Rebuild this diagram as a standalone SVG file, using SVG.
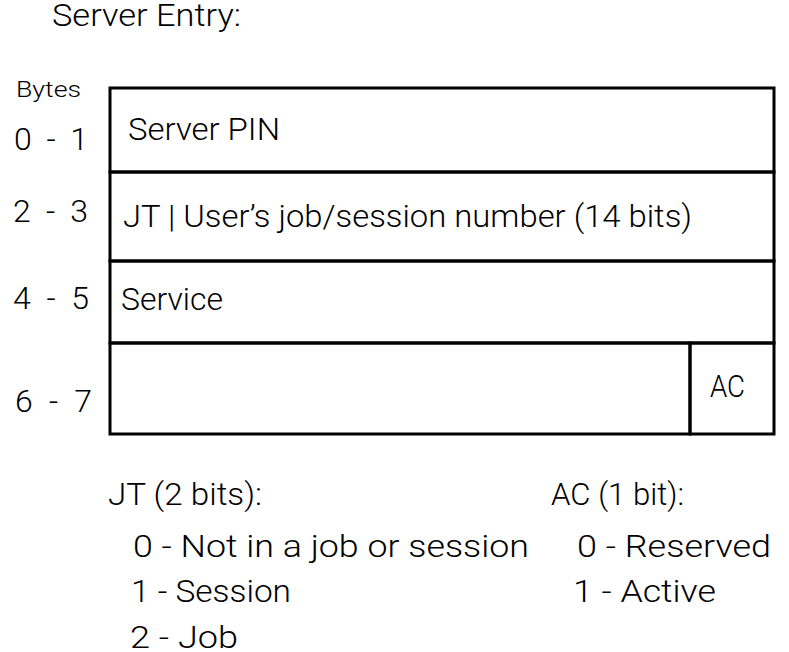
<svg xmlns="http://www.w3.org/2000/svg" width="789" height="652" viewBox="0 0 789 652">
  <style>
    text { font-family: Roboto, "Liberation Sans", Arial, sans-serif; font-size: 32px; fill: #000; font-weight: 300; }
    .small { font-size: 22px; }
    .cell { fill: none; stroke: #000; stroke-width: 3; }
  </style>
  <rect x="0" y="0" width="789" height="652" fill="#fff"/>
  <g id="title">
    <text x="52" y="26" textLength="189" lengthAdjust="spacingAndGlyphs">Server Entry:</text>
  </g>
  <g id="byte-labels">
    <text class="small" x="16" y="97" textLength="65" lengthAdjust="spacingAndGlyphs">Bytes</text>
    <text x="14" y="150" textLength="74" lengthAdjust="spacing">0 - 1</text>
    <text x="13" y="222" textLength="75" lengthAdjust="spacing">2 - 3</text>
    <text x="13" y="309" textLength="76" lengthAdjust="spacing">4 - 5</text>
    <text x="15" y="412" textLength="77" lengthAdjust="spacing">6 - 7</text>
  </g>
  <g id="row-server-pin">
    <rect class="cell" x="110" y="88" width="664" height="84"/>
    <text x="128" y="140" textLength="152" lengthAdjust="spacingAndGlyphs">Server PIN</text>
  </g>
  <g id="row-jt-job">
    <rect class="cell" x="110" y="172" width="664" height="89"/>
    <text x="123" y="227" textLength="569" lengthAdjust="spacingAndGlyphs">JT | User’s job/session number (14 bits)</text>
  </g>
  <g id="row-service">
    <rect class="cell" x="110" y="261" width="664" height="82"/>
    <text x="121" y="310" textLength="102" lengthAdjust="spacingAndGlyphs">Service</text>
  </g>
  <g id="row-flags">
    <rect class="cell" x="110" y="343" width="580" height="91"/>
  </g>
  <g id="cell-ac">
    <rect class="cell" x="690" y="343" width="84" height="91"/>
    <text x="710" y="397" textLength="35" lengthAdjust="spacingAndGlyphs">AC</text>
  </g>
  <g id="legend-jt">
    <text x="108" y="505" textLength="154" lengthAdjust="spacingAndGlyphs">JT (2 bits):</text>
    <text x="133" y="557" textLength="396" lengthAdjust="spacingAndGlyphs">0 - Not in a job or session</text>
    <text x="131" y="602" textLength="160" lengthAdjust="spacingAndGlyphs">1 - Session</text>
    <text x="130" y="648" textLength="108" lengthAdjust="spacingAndGlyphs">2 - Job</text>
  </g>
  <g id="legend-ac">
    <text x="551" y="505" textLength="133" lengthAdjust="spacingAndGlyphs">AC (1 bit):</text>
    <text x="577" y="557" textLength="194" lengthAdjust="spacingAndGlyphs">0 - Reserved</text>
    <text x="573" y="602" textLength="143" lengthAdjust="spacingAndGlyphs">1 - Active</text>
  </g>
  <g id="connectors"></g>
</svg>
